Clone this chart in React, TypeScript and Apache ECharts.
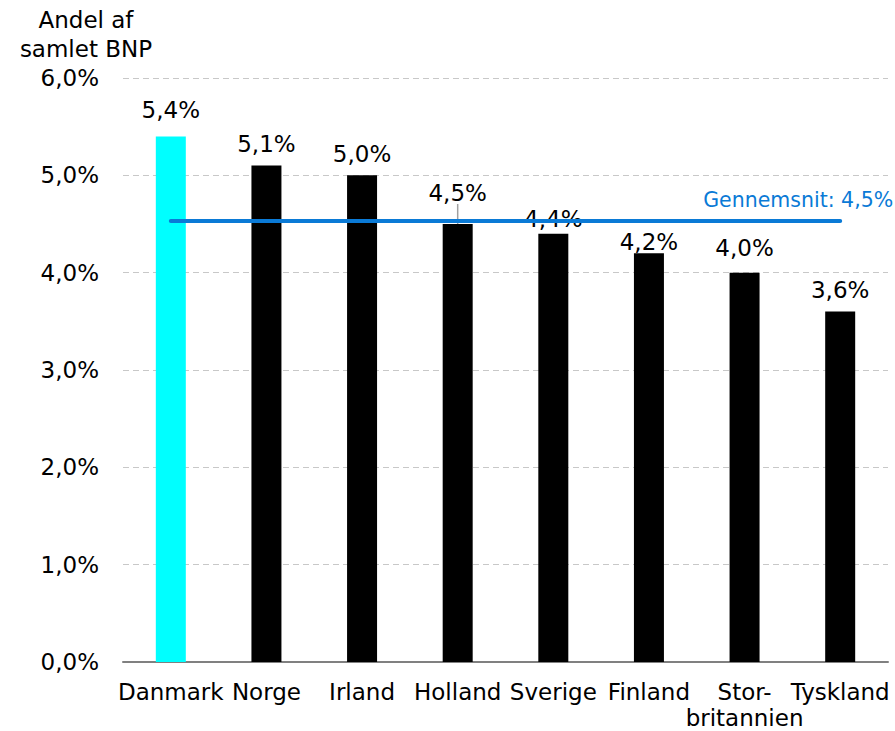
import React, { useEffect, useRef } from "react";
import * as echarts from "echarts";

const categories = ["Danmark", "Norge", "Irland", "Holland", "Sverige", "Finland", "Stor-\nbritannien", "Tyskland"];
const values = [5.4, 5.1, 5.0, 4.5, 4.4, 4.2, 4.0, 3.6];
const average = 4.53;
const averageLabel = "Gennemsnit: 4,5%";
const yTicks = [0, 1, 2, 3, 4, 5, 6];
const labelShift = [-5, 0, 0, -10, 7, 10, -3, 0];

const FONT = "DejaVu Sans";
const FS = 23;
const fmt = (v: number) => v.toFixed(1).replace(".", ",") + "%";

export default function App() {
  const ref = useRef<HTMLDivElement>(null);
  useEffect(() => {
    const chart = echarts.init(ref.current!, null, { renderer: "svg" });
    chart.setOption({
      animation: false,
      backgroundColor: "#fff",
      textStyle: { fontFamily: FONT },
      grid: { left: 123, right: 7, top: 78, bottom: 69, containLabel: false, outerBoundsMode: "none" },
      graphic: [
        {
          type: "text",
          x: 86,
          y: 5,
          style: {
            text: "Andel af\nsamlet BNP",
            fontFamily: FONT,
            fontSize: FS,
            lineHeight: 29,
            fill: "#000",
            align: "center",
            verticalAlign: "top",
          },
        },
      ],
      xAxis: {
        type: "category",
        data: categories,
        axisLine: { lineStyle: { color: "#808080", width: 2 } },
        axisTick: { show: false },
        axisLabel: { interval: 0, fontSize: FS, color: "#000", margin: 17, lineHeight: 26, fontFamily: FONT },
      },
      yAxis: {
        type: "value",
        min: yTicks[0],
        max: yTicks[yTicks.length - 1],
        interval: 1,
        axisLine: { show: false },
        axisTick: { show: false },
        axisLabel: { fontSize: FS, color: "#000", margin: 24, fontFamily: FONT, formatter: (v: number) => fmt(v) },
        splitLine: { lineStyle: { color: "#c8c8c8", type: [6, 4], width: 1 } },
      },
      series: [
        {
          type: "bar",
          barWidth: 30,
          data: values.map((v, i) => ({
            value: v,
            itemStyle: { color: i === 0 ? "#00FFFF" : "#000000" },
            labelLine: { show: i === 3, lineStyle: { color: "#a0a0a0", width: 1.5 } },
          })),
          label: {
            show: true,
            position: "top",
            distance: 10,
            fontSize: FS,
            color: "#000",
            fontFamily: FONT,
            formatter: (p: any) => fmt(p.value),
          },
          labelLayout: (p: any) => ({ dy: labelShift[p.dataIndex] }),
          z: 2,
        },
        {
          type: "line",
          data: values.map(() => average),
          symbol: "none",
          showSymbol: false,
          lineStyle: { color: "#0A7AD6", width: 4, cap: "round" },
          endLabel: {
            show: true,
            formatter: averageLabel,
            fontSize: 20.5,
            color: "#0A7AD6",
            fontFamily: FONT,
            align: "right",
            distance: 0,
            offset: [53, -21],
          },
          z: 3,
        },
      ],
    });
    return () => chart.dispose();
  }, []);
  return <div ref={ref} style={{ position: "fixed", left: 0, top: 0, width: 895, height: 731 }} />;
}
